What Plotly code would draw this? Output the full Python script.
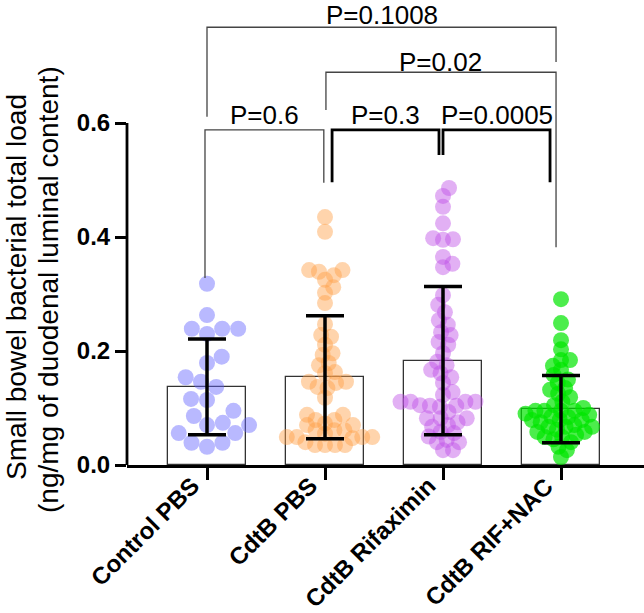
import math
import numpy as np
import plotly.graph_objects as go

# ---------------- data ----------------
groups = ["Control PBS", "CdtB PBS", "CdtB Rifaximin", "CdtB RIF+NAC"]

control_pbs = [0.318, 0.263, 0.239, 0.239, 0.239, 0.230, 0.190, 0.179, 0.154, 0.146,
               0.137, 0.116, 0.114, 0.095, 0.086, 0.074, 0.070, 0.070, 0.056, 0.056,
               0.039, 0.039, 0.032]
cdtb_pbs = [0.435, 0.409, 0.342, 0.342, 0.339, 0.333, 0.325, 0.312, 0.302, 0.284,
            0.247, 0.228, 0.225, 0.211, 0.196, 0.193, 0.179, 0.175, 0.163, 0.161,
            0.146, 0.146, 0.144, 0.137, 0.135, 0.118, 0.088, 0.088, 0.079, 0.079,
            0.073, 0.070, 0.070, 0.061, 0.061, 0.061, 0.049, 0.049, 0.049, 0.049,
            0.047, 0.035, 0.035, 0.035, 0.035, 0.040, 0.055]
cdtb_rifaximin = [0.486, 0.472, 0.453, 0.424, 0.398, 0.396, 0.395, 0.365, 0.353, 0.347,
                  0.298, 0.281, 0.268, 0.254, 0.246, 0.233, 0.228, 0.216, 0.211, 0.196,
                  0.181, 0.175, 0.167, 0.161, 0.154, 0.144, 0.128, 0.123, 0.111, 0.111,
                  0.111, 0.111, 0.105, 0.102, 0.104, 0.104, 0.093, 0.082, 0.082, 0.082,
                  0.075, 0.070, 0.067, 0.058, 0.056, 0.044, 0.040, 0.040, 0.026, 0.026,
                  0.050]
cdtb_rif_nac = [0.291, 0.249, 0.219, 0.203, 0.184, 0.184, 0.174, 0.167, 0.158, 0.150,
                0.144, 0.135, 0.132, 0.125, 0.119, 0.111, 0.105, 0.100, 0.095, 0.095,
                0.095, 0.095, 0.090, 0.084, 0.079, 0.079, 0.079, 0.075, 0.070, 0.067,
                0.067, 0.067, 0.062, 0.058, 0.058, 0.053, 0.049, 0.049, 0.045, 0.040,
                0.032, 0.026, 0.014, 0.085, 0.088]

means = [0.137, 0.154, 0.183, 0.098]
sds = [0.084, 0.108, 0.130, 0.059]

p_labels = ["P=0.1008", "P=0.02", "P=0.6", "P=0.3", "P=0.0005"]

y_title_lines = ["Small bowel bacterial total load", "(ng/mg of duodenal luminal content)"]

y_tick_vals = [0.0, 0.2, 0.4, 0.6]

# ---------------- styling ----------------
W, H = 644, 613
ML, MB = 127, 148
PX_PER_CAT = 118.0
PX_PER_UNIT = 570.0
x_left = -80.0 / PX_PER_CAT
x_right = x_left + (W - ML) / PX_PER_CAT
y_top = (H - MB) / PX_PER_UNIT

fills = ["rgba(100,100,255,0.45)", "rgba(255,160,70,0.45)",
         "rgba(190,80,230,0.45)", "rgba(0,230,0,0.70)"]
dists = [16, 10, 10, 9]
FONT = "Arial, Liberation Sans, sans-serif"


def swarm(vals, d):
    placed = []
    offs = [0.0] * len(vals)
    order = sorted(range(len(vals)), key=lambda i: vals[i])
    for idx in order:
        y = vals[idx] * PX_PER_UNIT
        cands = [0.0]
        for px, py in placed:
            dy = abs(py - y)
            if dy < d:
                dx = math.sqrt(d * d - dy * dy)
                cands += [px + dx, px - dx]
        cands.sort(key=abs)
        chosen = 0.0
        for c in cands:
            if all((c - px) ** 2 + (y - py) ** 2 >= d * d - 1e-6 for px, py in placed):
                chosen = c
                break
        placed.append((chosen, y))
        offs[idx] = chosen / PX_PER_CAT
    return offs


fig = go.Figure()

fig.add_trace(go.Bar(x=list(range(4)), y=means, width=0.66,
                     marker=dict(color="rgba(255,255,255,0)",
                                 line=dict(color="#333333", width=1.3)),
                     showlegend=False, hoverinfo="skip"))

for i, vals in enumerate([control_pbs, cdtb_pbs, cdtb_rifaximin, cdtb_rif_nac]):
    offs = swarm(vals, dists[i])
    fig.add_trace(go.Scatter(x=[i + o for o in offs], y=vals, mode="markers",
                             marker=dict(size=16, color=fills[i], line=dict(width=0)),
                             showlegend=False))

fig.add_trace(go.Scatter(x=list(range(4)), y=means, mode="markers",
                         marker=dict(size=1, color="rgba(0,0,0,0)"),
                         error_y=dict(type="data", array=sds, color="black",
                                      thickness=3.5, width=19),
                         showlegend=False))

# y axis line (only 0 - 0.6)
fig.add_shape(type="line", xref="paper", yref="y", x0=0, x1=0, y0=0, y1=0.6,
              line=dict(color="black", width=2.8))

# brackets: (x0, x1, left leg bottom, right leg bottom, top, width, color, label index, text y)
brackets = [
    (0.0, 2.958, 0.611, 0.707, 0.768, 1.3, "#444444", 0, 0.790),
    (1.008, 2.958, 0.623, 0.382, 0.689, 1.3, "#444444", 1, 0.707),
    (-0.017, 0.99, 0.328, 0.495, 0.588, 1.3, "#444444", 2, 0.614),
    (1.06, 1.966, 0.496, 0.544, 0.588, 2.8, "black", 3, 0.614),
    (2.0, 2.907, 0.544, 0.496, 0.588, 2.8, "black", 4, 0.614),
]
for x0, x1, yl, yr, yt, lw, col, li, ty in brackets:
    fig.add_shape(type="path", xref="x", yref="y",
                  path=f"M {x0},{yl} L {x0},{yt} L {x1},{yt} L {x1},{yr}",
                  line=dict(color=col, width=lw))
    fig.add_annotation(x=(x0 + x1) / 2, y=ty, xref="x", yref="y", text=p_labels[li],
                       showarrow=False, xanchor="center", yanchor="middle",
                       font=dict(family=FONT, size=26, color="black"))

# y axis title (two lines)
for k, (cx, cy) in enumerate([(16, 287), (48, 290)]):
    fig.add_annotation(xref="paper", yref="paper", x=(cx - ML) / (W - ML),
                       y=(H - MB - cy) / (H - MB), text=y_title_lines[k],
                       textangle=-90, showarrow=False, xanchor="center", yanchor="middle",
                       font=dict(family=FONT, size=28, color="black"))

# x category labels (rotated)
for i, g in enumerate(groups):
    fig.add_annotation(x=i, xref="x", y=0, yref="paper", text=g, textangle=-45,
                       showarrow=False, xanchor="right", yanchor="top",
                       xshift=0, yshift=-4,
                       font=dict(family=FONT, size=24, color="black", weight="bold"))

fig.update_layout(
    template="none",
    width=W, height=H, margin=dict(l=ML, r=0, t=0, b=MB, autoexpand=False),
    plot_bgcolor="white", paper_bgcolor="white",
    font=dict(family=FONT, color="black"),
    bargap=0,
    hovermode=False,
    xaxis=dict(range=[x_left, x_right], tickmode="array", tickvals=list(range(4)),
               ticktext=["", "", "", ""], showline=True, linecolor="black",
               linewidth=2.8, ticks="outside", ticklen=12, tickwidth=2.5,
               tickcolor="black", showgrid=False, zeroline=False, automargin=False),
    yaxis=dict(range=[0, y_top], tickmode="array", tickvals=y_tick_vals,
               tickformat=".1f", showline=False, ticks="outside", ticklen=11,
               tickwidth=2.5, tickcolor="black", showgrid=False, zeroline=False,
               automargin=False,
               tickfont=dict(family=FONT, size=24, color="black", weight="bold")),
)

fig.write_html("out.html", config={"displayModeBar": False},
               post_script="document.body.style.margin='0';document.body.style.overflow='hidden';")
